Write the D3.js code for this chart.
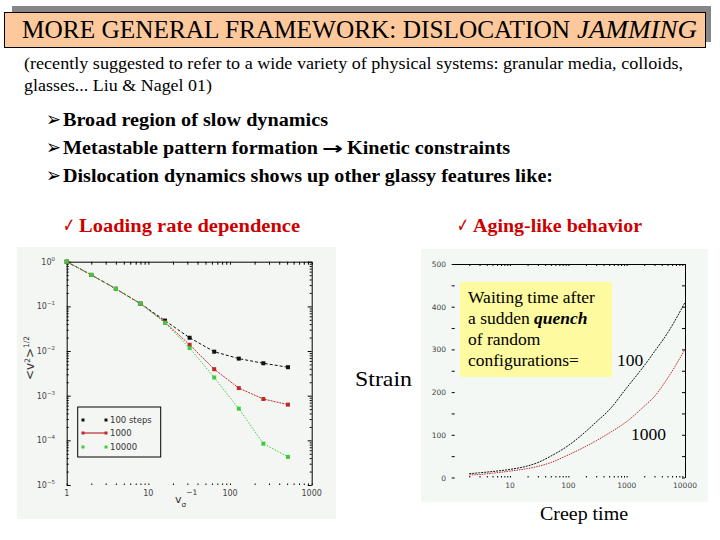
<!DOCTYPE html>
<html><head><meta charset="utf-8">
<script src="https://cdn.jsdelivr.net/npm/d3@7"></script>
<style>body{margin:0;background:#fff}svg{display:block}</style>
</head><body><svg id="c" width="720" height="540"></svg>
<script>
// ---------- slide text ----------
const titleMain = "MORE GENERAL FRAMEWORK: DISLOCATION";
const titleItalic = "JAMMING";
const subtitleLines = ["(recently suggested to refer to a wide variety of physical systems: granular media, colloids,", "glasses... Liu & Nagel 01)"];
const bulletLines = ["Broad region of slow dynamics", "Metastable pattern formation", "Dislocation dynamics shows up other glassy features like:"];
const bulletArrowTail = "Kinetic constraints";
const checkLabels = ["Loading rate dependence", "Aging-like behavior"];
const sideLabels = ["Strain", "Creep time"];
const quenchBoxLines = ["Waiting time after", "a sudden ", "quench", "of random", "configurations="];

// ---------- left chart data: <v^2>^(1/2) vs driving rate ----------
const drivingRate = [1, 2, 4, 8, 16, 32, 64, 128, 256, 512];
const v100   = [1, 0.506, 0.247, 0.115, 0.048, 0.0198, 0.00966, 0.00676, 0.00532, 0.00434];
const v1000  = [1, 0.506, 0.247, 0.115, 0.0441, 0.0138, 0.00392, 0.00148, 0.000843, 0.00063];
const v10000 = [1, 0.506, 0.247, 0.115, 0.0426, 0.01167, 0.00255, 0.000514, 0.0000843, 0.0000426];
const leftLegend = ["100 steps", "1000", "10000"];
const leftYExps = [0, -1, -2, -3, -4, -5];
const leftXTicks = [1, 10, 100, 1000];

// ---------- right chart data: strain vs creep time ----------
const creepTime = [2, 3, 5, 10, 20, 30, 50, 100, 200, 300, 500, 1000, 2000, 3000, 5000, 10000];
const strain100  = [9, 11, 14, 19, 27, 35, 50, 75, 108, 130, 158, 210, 262, 295, 338, 410];
const strain1000 = [6, 7, 10, 15, 21, 26, 35, 53, 73, 86, 104, 131, 167, 190, 232, 300];
const rightXTicks = [10, 100, 1000, 10000];
const rightYTicks = [0, 100, 200, 300, 400, 500];
const quenchLabels = ["100", "1000"];

const svg = d3.select("#c");
const SERIF = "'Liberation Serif','Times New Roman',serif";
const SANS = "'DejaVu Sans',sans-serif";
const RED = "#cc0000";

function txt(parent, x, y, s, o = {}) {
  const t = parent.append("text").attr("x", x).attr("y", y).text(s)
    .attr("font-family", o.ff || SERIF).attr("font-size", o.fs || 16)
    .attr("fill", o.fill || "#000");
  if (o.fw) t.attr("font-weight", o.fw);
  if (o.st) t.attr("font-style", o.st);
  if (o.anchor) t.attr("text-anchor", o.anchor);
  if (o.len) t.attr("textLength", o.len).attr("lengthAdjust", "spacingAndGlyphs");
  return t;
}

// ---------- title ----------
svg.append("rect").attr("x", 12).attr("y", 6).attr("width", 699).attr("height", 36).attr("fill", "#868686");
svg.append("rect").attr("x", 4.5).attr("y", 12.5).attr("width", 701).attr("height", 35).attr("fill", "#fdc99c").attr("stroke", "#000").attr("stroke-width", 1);
txt(svg, 22, 38, titleMain, {fs: 25.5, len: 548});
txt(svg, 577, 38, titleItalic, {fs: 25.5, st: "italic", len: 120});

txt(svg, 24, 69, subtitleLines[0], {fs: 16.5, len: 659});
txt(svg, 24, 91, subtitleLines[1], {fs: 16.5, len: 188});

// ---------- bullets ----------
const bulletY = [126, 154, 182];
const bulletEnd = [328, 318, 553];
bulletLines.forEach((s, i) => {
  txt(svg, 46, bulletY[i] - 0.5, "\u27A2", {ff: SANS, fs: 20, len: 15});
  txt(svg, 63, bulletY[i], s, {fs: 18, fw: "bold", len: bulletEnd[i] - 63});
});
txt(svg, 322, bulletY[1], "\u2192", {ff: SANS, fs: 17, fw: "bold", len: 21});
txt(svg, 347, bulletY[1], bulletArrowTail, {fs: 18, fw: "bold", len: 163});

// ---------- check items ----------
txt(svg, 63, 232, "\u2713", {ff: SANS, fs: 20, fill: RED, len: 12});
txt(svg, 79, 232, checkLabels[0], {fs: 18, fw: "bold", fill: RED, len: 221});
txt(svg, 457, 232, "\u2713", {ff: SANS, fs: 20, fill: RED, len: 12});
txt(svg, 473, 232, checkLabels[1], {fs: 18, fw: "bold", fill: RED, len: 169});

// ---------- left chart ----------
const L = svg.append("g");
L.append("rect").attr("x", 17).attr("y", 247).attr("width", 319).attr("height", 272).attr("fill", "#f4f6f4");
const lx0 = 66.7, lx1 = 311.7, ly0 = 261.7, ly1 = 485;
const xL = d3.scaleLog().domain([1, 1000]).range([lx0, lx1]);
const yL = d3.scaleLog().domain([1e-5, 1]).range([ly1, ly0]);
const yMajor = leftYExps.map(e => Math.pow(10, e));
const yMinor = yL.ticks().filter(v => !yMajor.some(m => Math.abs(m - v) / m < 1e-6));
const xMajor = leftXTicks;
const xMinor = xL.ticks().filter(v => !xMajor.includes(v));

function styleAxis(g, col) {
  g.selectAll("path").attr("stroke", col || "#000");
  g.selectAll("line").attr("stroke", col || "#000");
}
L.append("g").attr("transform", `translate(${lx0},0)`)
  .call(d3.axisRight(yL).tickValues(yMajor).tickSize(4).tickSizeOuter(0).tickFormat(""))
  .call(styleAxis);
L.append("g").attr("transform", `translate(${lx0},0)`)
  .call(d3.axisRight(yL).tickValues(yMinor).tickSize(2).tickFormat(""))
  .call(g => g.select(".domain").remove()).call(styleAxis);
L.append("g").attr("transform", `translate(${lx1},0)`)
  .call(d3.axisLeft(yL).tickValues(yMajor).tickSize(4).tickSizeOuter(0).tickFormat(""))
  .call(styleAxis);
L.append("g").attr("transform", `translate(${lx1},0)`)
  .call(d3.axisLeft(yL).tickValues(yMinor).tickSize(2).tickFormat(""))
  .call(g => g.select(".domain").remove()).call(styleAxis);
L.append("g").attr("transform", `translate(0,${ly0})`)
  .call(d3.axisBottom(xL).tickValues(xMajor.concat(xMinor)).tickSize(3).tickSizeOuter(0).tickFormat(""))
  .call(styleAxis);
L.append("g").attr("transform", `translate(0,${ly1})`)
  .call(d3.axisTop(xL).tickValues(xMajor.concat(xMinor)).tickSize(1.5).tickFormat(""))
  .call(g => g.select(".domain").remove()).call(styleAxis);

leftYExps.forEach(e => {
  const t = L.append("text").attr("x", 55).attr("y", yL(Math.pow(10, e)) + 3)
    .attr("text-anchor", "end").attr("font-family", SANS).attr("font-size", 8).attr("fill", "#444");
  t.append("tspan").text("10");
  t.append("tspan").attr("dy", -4).attr("font-size", 5.5).text(e === 0 ? "0" : "\u2212" + (-e));
});
leftXTicks.forEach(v => {
  txt(L, xL(v), ly1 + 11, String(v), {ff: SANS, fs: 8, fill: "#444", anchor: "middle"});
});

const yt = L.append("text").attr("transform", "translate(34,380) rotate(-90)")
  .attr("font-family", SANS).attr("font-size", 12).attr("fill", "#333");
yt.append("tspan").text("<v");
yt.append("tspan").attr("dy", -4).attr("font-size", 7.5).text("2");
yt.append("tspan").attr("dy", 4).text(">");
yt.append("tspan").attr("dy", -5).attr("font-size", 7.5).text("1/2");
const xt = L.append("text").attr("x", 175).attr("y", 503)
  .attr("font-family", SANS).attr("font-size", 11).attr("fill", "#333");
xt.append("tspan").text("v");
xt.append("tspan").attr("dy", 4).attr("font-size", 7.5).text("\u03C3");
xt.append("tspan").attr("dy", -12).attr("font-size", 7.5).text("\u22121");

const leftSeries = [
  {vals: v100, col: "#111", dash: "3,2"},
  {vals: v1000, col: "#c0282c", dash: "2,1"},
  {vals: v10000, col: "#3ecb3e", dash: "1.5,1.5"}
];
const lineL = d3.line().x(d => xL(d[0])).y(d => yL(d[1]));
leftSeries.forEach(s => {
  const pts = drivingRate.map((r, i) => [r, s.vals[i]]);
  L.append("path").datum(pts).attr("d", lineL).attr("fill", "none")
    .attr("stroke", s.col).attr("stroke-width", 1).attr("stroke-dasharray", s.dash);
  L.selectAll(null).data(pts).enter().append("rect")
    .attr("x", d => xL(d[0]) - 2).attr("y", d => yL(d[1]) - 2)
    .attr("width", 4).attr("height", 4).attr("fill", s.col);
});

L.append("rect").attr("x", 77.7).attr("y", 407).attr("width", 83).attr("height", 50)
  .attr("fill", "none").attr("stroke", "#000").attr("stroke-width", 1);
const legY = [420, 433, 447];
leftSeries.forEach((s, i) => {
  if (i === 1) L.append("line").attr("x1", 83).attr("x2", 106).attr("y1", legY[i]).attr("y2", legY[i])
    .attr("stroke", s.col).attr("stroke-width", 1.2);
  [83, 106].forEach(x => L.append("rect").attr("x", x - 1.5).attr("y", legY[i] - 1.5)
    .attr("width", 3).attr("height", 3).attr("fill", s.col));
  txt(L, 110, legY[i] + 3, leftLegend[i], {ff: SANS, fs: 8.5, fill: "#333"});
});

// ---------- right chart ----------
const R = svg.append("g");
R.append("rect").attr("x", 421).attr("y", 249).attr("width", 287).attr("height", 253).attr("fill", "#f3f8f5");
const rx0 = 451.7, rx1 = 685, ry0 = 264, ry1 = 477.5;
const xR = d3.scaleLog().domain([1, 10000]).range([rx0, rx1]);
const yR = d3.scaleLinear().domain([0, 500]).range([ry1, ry0]);
const rxAll = xR.ticks().filter(v => v > 1);
const ryMinor = d3.range(50, 500, 100);

R.append("g").attr("transform", `translate(0,${ry0})`)
  .call(d3.axisBottom(xR).tickValues(rxAll).tickSize(2).tickSizeOuter(0).tickFormat(""))
  .call(styleAxis);
R.append("g").attr("transform", `translate(0,${ry1})`)
  .call(d3.axisTop(xR).tickValues(rxAll).tickSize(1.5).tickFormat(""))
  .call(g => g.select(".domain").remove()).call(styleAxis);
R.append("g").attr("transform", `translate(${rx1},0)`)
  .call(d3.axisLeft(yR).tickValues(rightYTicks.concat(ryMinor)).tickSize(3).tickSizeOuter(0).tickFormat(""))
  .call(styleAxis);
R.append("g").attr("transform", `translate(${rx0},0)`)
  .call(d3.axisRight(yR).tickValues(rightYTicks.concat(ryMinor)).tickSize(3).tickFormat(""))
  .call(g => g.select(".domain").remove()).call(styleAxis);

rightYTicks.forEach(v => txt(R, 446, yR(v) + 3, String(v), {ff: SANS, fs: 7.5, fill: "#444", anchor: "end"}));
rightXTicks.forEach(v => txt(R, xR(v), ry1 + 10, String(v), {ff: SANS, fs: 7.5, fill: "#444", anchor: "middle"}));

const lineR = d3.line().x(d => xR(d[0])).y(d => yR(d[1])).curve(d3.curveMonotoneX);
[[strain100, "#111", "2,1"], [strain1000, "#c4262e", "1.5,1"]].forEach(([vals, col, dash]) => {
  R.append("path").datum(creepTime.map((t, i) => [t, vals[i]])).attr("d", lineR)
    .attr("fill", "none").attr("stroke", col).attr("stroke-width", 1).attr("stroke-dasharray", dash);
});

R.append("rect").attr("x", 460).attr("y", 282).attr("width", 152).attr("height", 95).attr("fill", "#fefa9f");
txt(R, 468, 303, quenchBoxLines[0], {fs: 17.5});
const ql = txt(R, 468, 324, quenchBoxLines[1], {fs: 17.5});
ql.append("tspan").attr("font-weight", "bold").attr("font-style", "italic").text(quenchBoxLines[2]);
txt(R, 468, 345, quenchBoxLines[3], {fs: 17.5});
txt(R, 468, 366, quenchBoxLines[4], {fs: 17.5});
txt(R, 617, 366, quenchLabels[0], {fs: 17.5});
txt(R, 631, 440, quenchLabels[1], {fs: 17.5});

txt(svg, 355, 386, sideLabels[0], {fs: 21, len: 57});
txt(svg, 540, 520, sideLabels[1], {fs: 19.5, len: 88});
</script></body></html>
